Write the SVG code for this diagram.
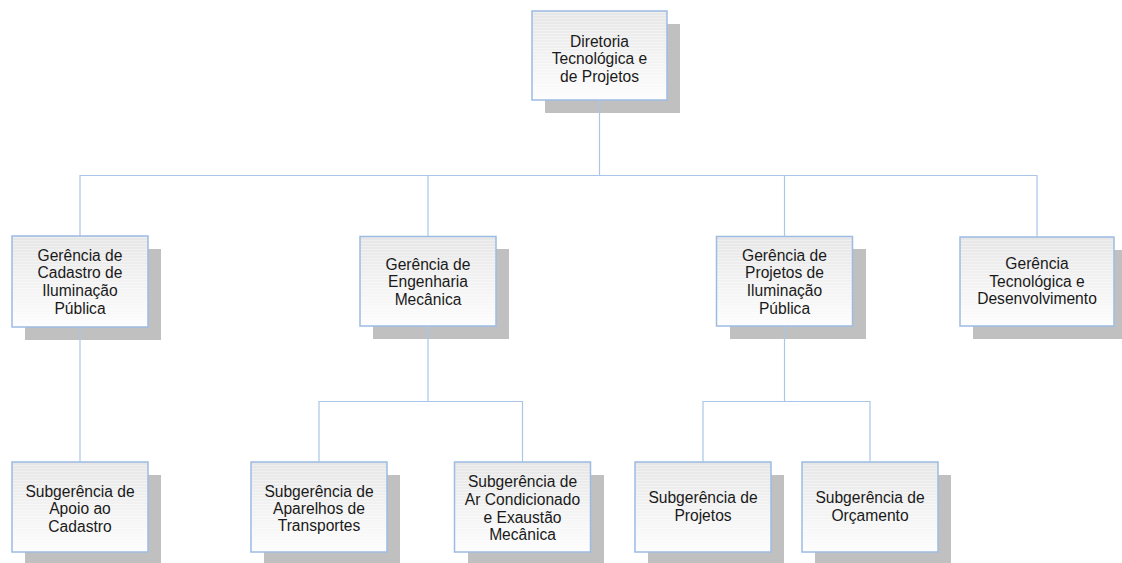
<svg xmlns="http://www.w3.org/2000/svg" width="1122" height="563" viewBox="0 0 1122 563">
<defs>
<linearGradient id="fillg" x1="0" y1="0" x2="0" y2="1">
<stop offset="0" stop-color="#e6e6e6"/>
<stop offset="0.5" stop-color="#f2f2f2"/>
<stop offset="1" stop-color="#fdfdfd"/>
</linearGradient>
<pattern id="stripes" width="4" height="3" patternUnits="userSpaceOnUse">
<rect width="4" height="1" fill="#ffffff" fill-opacity="0.35"/>
</pattern>
</defs>
<style>
.shadow{fill:#c0c0c0;}
.box{fill:url(#fillg);stroke:#9cbbe3;stroke-width:1.5;}
.str{fill:url(#stripes);}
.t{font-family:"Liberation Sans",Arial,sans-serif;font-size:15.6px;fill:#1a1a1a;text-anchor:middle;}
.c{fill:none;stroke:#a9c5e8;stroke-width:1.2;}
</style>
<rect width="1122" height="563" fill="#ffffff"/>

<g id="n-diretoria">
<rect class="shadow" x="545" y="24" width="135" height="89"/>
<rect class="box" x="532" y="11" width="135" height="89"/>
<rect class="str" x="533" y="12" width="133" height="87"/>
<text class="t" x="599.5" y="46.7">Diretoria</text>
<text class="t" x="599.5" y="64.2">Tecnológica e</text>
<text class="t" x="599.5" y="81.7">de Projetos</text>
</g>

<g id="n-cadastro">
<rect class="shadow" x="25" y="249" width="136" height="91"/>
<rect class="box" x="12" y="236" width="136" height="91"/>
<rect class="str" x="13" y="237" width="134" height="89"/>
<text class="t" x="80" y="260.7">Gerência de</text>
<text class="t" x="80" y="278.3">Cadastro de</text>
<text class="t" x="80" y="296">Iluminação</text>
<text class="t" x="80" y="313.5">Pública</text>
</g>

<g id="n-engenharia">
<rect class="shadow" x="373" y="249" width="136" height="90"/>
<rect class="box" x="360" y="236.5" width="136" height="89.5"/>
<rect class="str" x="361" y="237.5" width="134" height="87.5"/>
<text class="t" x="428" y="270">Gerência de</text>
<text class="t" x="428" y="287.4">Engenharia</text>
<text class="t" x="428" y="304.8">Mecânica</text>
</g>

<g id="n-projetos-ip">
<rect class="shadow" x="730" y="249" width="136" height="90"/>
<rect class="box" x="716.5" y="236.5" width="136" height="89.5"/>
<rect class="str" x="717.5" y="237.5" width="134" height="87.5"/>
<text class="t" x="784.5" y="260.7">Gerência de</text>
<text class="t" x="784.5" y="278.3">Projetos de</text>
<text class="t" x="784.5" y="296">Iluminação</text>
<text class="t" x="784.5" y="313.5">Pública</text>
</g>

<g id="n-tecnologica">
<rect class="shadow" x="973" y="250" width="154" height="89"/>
<rect class="box" x="960" y="237" width="154" height="89"/>
<rect class="str" x="961" y="238" width="152" height="87"/>
<text class="t" x="1037" y="268.5">Gerência</text>
<text class="t" x="1037" y="286.5">Tecnológica e</text>
<text class="t" x="1037" y="304.3">Desenvolvimento</text>
</g>

<g id="n-apoio">
<rect class="shadow" x="25" y="475" width="136" height="90"/>
<rect class="box" x="12" y="462" width="136" height="90"/>
<rect class="str" x="13" y="463" width="134" height="88"/>
<text class="t" x="80" y="496.7">Subgerência de</text>
<text class="t" x="80" y="514.3">Apoio ao</text>
<text class="t" x="80" y="531.7">Cadastro</text>
</g>

<g id="n-aparelhos">
<rect class="shadow" x="264" y="475" width="136" height="90"/>
<rect class="box" x="251" y="462" width="136" height="90"/>
<rect class="str" x="252" y="463" width="134" height="88"/>
<text class="t" x="319" y="496.7">Subgerência de</text>
<text class="t" x="319" y="514.1">Aparelhos de</text>
<text class="t" x="319" y="531.3">Transportes</text>
</g>

<g id="n-arcond">
<rect class="shadow" x="468" y="475" width="136" height="90"/>
<rect class="box" x="454.5" y="462" width="136" height="90"/>
<rect class="str" x="455.5" y="463" width="134" height="88"/>
<text class="t" x="522.5" y="487.3">Subgerência de</text>
<text class="t" x="522.5" y="505">Ar Condicionado</text>
<text class="t" x="522.5" y="522.7">e Exaustão</text>
<text class="t" x="522.5" y="540">Mecânica</text>
</g>

<g id="n-sub-projetos">
<rect class="shadow" x="648" y="475" width="136" height="90"/>
<rect class="box" x="635" y="462" width="136" height="90"/>
<rect class="str" x="636" y="463" width="134" height="88"/>
<text class="t" x="703" y="503.3">Subgerência de</text>
<text class="t" x="703" y="520.5">Projetos</text>
</g>

<g id="n-orcamento">
<rect class="shadow" x="815" y="475" width="136" height="90"/>
<rect class="box" x="802" y="462" width="136" height="90"/>
<rect class="str" x="803" y="463" width="134" height="88"/>
<text class="t" x="870" y="503.3">Subgerência de</text>
<text class="t" x="870" y="520.5">Orçamento</text>
</g>

<g id="connectors">
<path class="c" d="M599.5 100 V175.5"/>
<path class="c" d="M80 236 V175.5 H1037 V237"/>
<path class="c" d="M428 175.5 V236.5"/>
<path class="c" d="M784.5 175.5 V236.5"/>
<path class="c" d="M80 327 V462"/>
<path class="c" d="M428 326 V401.5"/>
<path class="c" d="M319 462 V401.5 H522.5 V462"/>
<path class="c" d="M784.5 326 V401.5"/>
<path class="c" d="M703 462 V401.5 H870 V462"/>
</g>
</svg>
